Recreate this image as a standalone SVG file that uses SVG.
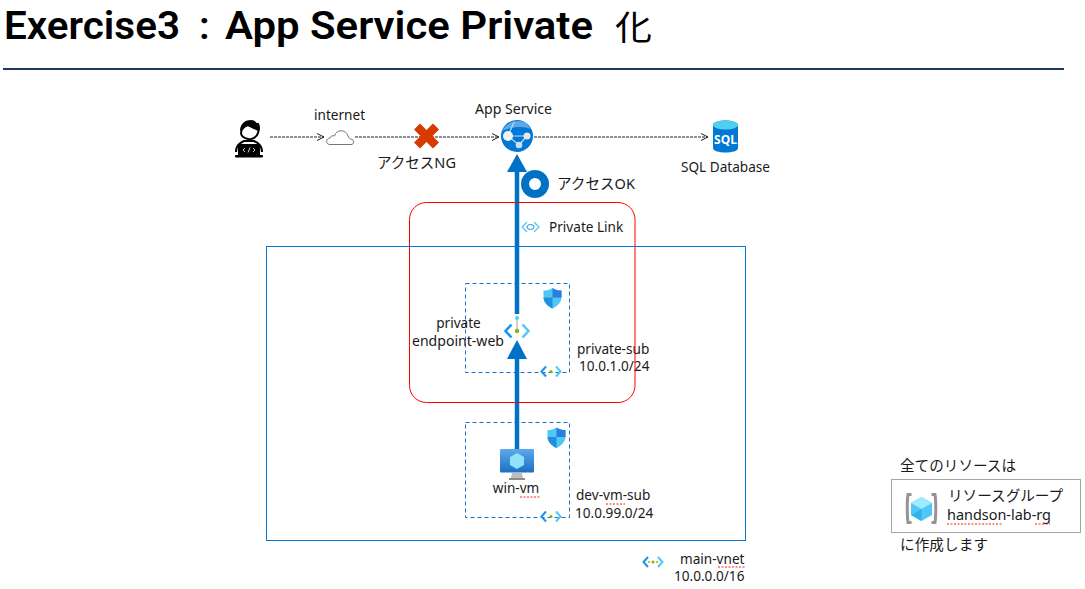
<svg xmlns="http://www.w3.org/2000/svg" width="1085" height="589" viewBox="0 0 1085 589">
<style>
text{font-family:"Noto Sans","Noto Sans CJK JP",sans-serif;font-size:13.6px;fill:#1a1a1a}
.m{text-anchor:middle}
.t{font-family:Roboto,"Noto Sans CJK JP",sans-serif;font-size:39px;font-weight:600;fill:#000}
.c{font-size:14.6px}
.dash{fill:none;stroke:#222;stroke-width:1;stroke-dasharray:3 1}
.sub{fill:none;stroke:#1a6fc0;stroke-width:1;stroke-dasharray:4 3}
.blue{fill:none;stroke:#0072c6;stroke-width:4.500}
.sq{fill:none;stroke:#f00;stroke-width:.9;stroke-dasharray:2 1.500}
.v{fill:none;stroke:#50c7f5;stroke-width:2}
.v2{fill:none;stroke:#1b93eb;stroke-width:2}
</style>
<defs>
<marker id="open" markerWidth="10" markerHeight="10" refX="8" refY="4" orient="auto" markerUnits="userSpaceOnUse"><path d="M1 .5L8 4L1 7.500" fill="none" stroke="#222" stroke-width="1"/></marker>
<linearGradient id="sh" x1="0" y1="0" x2="0" y2="1"><stop offset="0" stop-color="#5ea9ee"/><stop offset="1" stop-color="#1b6fc4"/></linearGradient>
<g id="shield"><path d="M0-10.500C3-8.500 5.500-8 9-8V-1C9 4 4 8 0 10C-4 8-9 4-9-1V-8C-5.500-8-3-8.500 0-10.500Z" fill="#50c7f5"/><path d="M0-10.500C3-8.500 5.500-8 9-8V-1H0Z" fill="#2a7de0"/><path d="M0-1H-9C-9 4-4 8 0 10Z" fill="#1f8fe0"/></g>
<g id="vnet"><path class="v2" d="M-5-5L-9.500 0L-5 5"/><path class="v" d="M5-5L9.500 0L5 5"/><circle r="1.500" fill="#7fba00"/></g>
</defs>

<text class="t" x="4" y="39" textLength="176" lengthAdjust="spacingAndGlyphs">Exercise3</text>
<text class="t" x="199" y="39">:</text>
<text class="t" x="225" y="39" textLength="368" lengthAdjust="spacingAndGlyphs">App Service Private</text>
<text class="t" x="615" y="40" style="font-size:34px;font-weight:400" textLength="37" lengthAdjust="spacingAndGlyphs">化</text>
<line x1="3" y1="69" x2="1064" y2="69" stroke="#1f3864" stroke-width="2"/>

<g id="main-vnet">
<rect x="266.500" y="246.500" width="479" height="294" fill="none" stroke="#0078d4"/>
<use href="#vnet" x="653" y="562"/><circle cx="649" cy="562" r="1" fill="#7fba00"/><circle cx="657" cy="562" r="1" fill="#7fba00"/>
<text x="680" y="564">main-vnet</text>
<path class="sq" d="M718 567H745"/>
<text x="674" y="581">10.0.0.0/16</text>
</g>

<g id="private-sub">
<rect x="465.500" y="283.500" width="104" height="89" class="sub"/>
<use href="#shield" x="552.500" y="298.500"/>
<use href="#vnet" x="551" y="371.500"/>
<text x="577" y="354">private-sub</text>
<text x="579" y="371">10.0.1.0/24</text>
</g>

<g id="dev-vm-sub">
<rect x="465.500" y="422.500" width="104" height="95" class="sub"/>
<use href="#shield" x="556.500" y="438"/>
<use href="#vnet" x="551" y="516.500"/>
<text x="576" y="500">dev-vm-sub</text>
<path class="sq" d="M606 504H625"/>
<text x="575" y="518">10.0.99.0/24</text>
</g>

<g id="connectors">
<line class="dash" x1="270" y1="137" x2="324" y2="137" marker-end="url(#open)"/>
<line class="dash" x1="355" y1="137" x2="499" y2="137" marker-end="url(#open)"/>
<line class="dash" x1="534" y1="137" x2="708" y2="137" marker-end="url(#open)"/>
<line class="blue" x1="517" y1="172" x2="517" y2="314"/>
<path d="M517 154L527 172H507Z" fill="#0072c6"/>
<line class="blue" x1="517" y1="357" x2="517" y2="452"/>
<path d="M517 340L527 359H507Z" fill="#0072c6"/>
</g>

<g id="private-link-box">
<rect x="409.500" y="202.500" width="225.500" height="200" rx="17" fill="none" stroke="#f00"/>
<path class="v" d="M527 222L522 227L527 232M534 222L539 227L534 232" style="stroke-width:1.200"/>
<ellipse cx="530.500" cy="227" rx="3.500" ry="2.500" fill="none" stroke="#1b93eb" stroke-width="1"/>
<text x="549" y="232">Private Link</text>
</g>

<g id="user">
<path d="M241 133C241 125 254 123 258 124C260 127 259 130 258 133C257 137 252 140 248 139C244 138 241 136 241 133Z" fill="#fff" stroke="#000" stroke-width="2"/>
<path d="M240 131C240 123 246 120 251 120C256 120 259 125 258 131C255 129 250 128 246 125C245 128 242 130 240 131Z" fill="#000"/>
<path d="M236 152C236 145 240 143 244 141H254C258 143 262 145 262 152" fill="#fff" stroke="#000" stroke-width="2"/>
<rect x="238" y="144" width="22" height="12" rx="1" fill="#000"/>
<rect x="235" y="155" width="28" height="2.500" rx="1" fill="#000"/>
<path d="M245 148L243 150L245 152M253 148L255 150L253 152M250 147.500L248 152.500" stroke="#fff" stroke-width=".8" fill="none"/>
</g>

<g id="internet">
<text x="314" y="120">internet</text>
<path d="M330 144.500C325.500 144.500 325.500 138.500 330 138C331 135.500 333 135.500 334.500 136C336 129 346 129 348 136C349 138.500 350 139 351 139C354.500 139.500 354.500 144.500 351 144.500Z" fill="#fff" stroke="#666" stroke-width=".9"/>
</g>

<g id="access-ng">
<path d="M420 123.500L426.500 130L433 123.500L439 129.500L432.500 136L439 142.500L433 148.500L426.500 142L420 148.500L414 142.500L420.500 136L414 129.500Z" fill="#d83b01"/>
<text class="c" x="377" y="168" textLength="79" lengthAdjust="spacingAndGlyphs">アクセスNG</text>
</g>

<g id="app-service">
<text class="m" x="513.500" y="114" textLength="77" lengthAdjust="spacingAndGlyphs">App Service</text>
<circle cx="517" cy="136" r="16" fill="#0078d4"/>
<path d="M502 131C506 123 516 118 526 123L531 129C524 126 513 126 502 131Z" fill="#5ea8e8"/>
<path d="M508 136L527 136L519 145M508 136L519 145M508 136L514 122" stroke="#b6dcf5" stroke-width="1.200" fill="none"/>
<circle cx="508" cy="136" r="5" fill="#eef3f8"/><circle cx="527" cy="136" r="3.500" fill="#e0e8f0"/><circle cx="519" cy="145" r="3.300" fill="#d4dfe9"/>
</g>

<g id="sql-database">
<path d="M713 125C713 119 738 119 738 125V148C738 154 713 154 713 148Z" fill="#0078d4"/>
<ellipse cx="725.500" cy="125" rx="12.500" ry="4.500" fill="#50d0f0"/>
<text class="m" x="725.500" y="144" style="font-size:12px;font-weight:700;fill:#fff">SQL</text>
<text x="681" y="172" textLength="89" lengthAdjust="spacingAndGlyphs">SQL Database</text>
</g>

<g id="access-ok">
<circle cx="535" cy="184" r="10" fill="none" stroke="#0072c6" stroke-width="8"/>
<text class="c" x="557" y="189" textLength="78" lengthAdjust="spacingAndGlyphs">アクセスOK</text>
</g>

<g id="private-endpoint-web">
<line x1="517" y1="318" x2="517" y2="331" stroke="#b0b0b0" stroke-width="1.200"/>
<circle cx="517" cy="318" r="2" fill="#50c7f5"/>
<path class="v2" d="M511.500 324.500L505.500 331L511.500 337.500" style="stroke-width:2.500"/>
<path class="v" d="M522.500 324.500L528.500 331L522.500 337.500" style="stroke-width:2.500"/>
<circle cx="517" cy="331" r="2.200" fill="#7fba00"/>
<text class="m" x="458.500" y="328">private</text>
<text class="m" x="458" y="346" textLength="92" lengthAdjust="spacingAndGlyphs">endpoint-web</text>
</g>

<g id="win-vm">
<rect x="500" y="449" width="34" height="23.500" rx="1" fill="url(#sh)"/>
<path d="M517 453L524 457V465L517 469L510 465V457Z" fill="#8fe2f7"/>
<path d="M512 473H522L523 478H511Z" fill="#bdbdbd"/><rect x="509" y="478" width="16" height="2" fill="#8a8a8a"/>
<text class="m" x="516" y="493">win-vm</text>
<path class="sq" d="M520 497H540"/>
</g>

<g id="resource-note">
<text class="c" x="900" y="471">全てのリソースは</text>
<rect x="891.500" y="479.500" width="189" height="53" fill="#fff" stroke="#a6a6a6"/>
<path d="M911.500 494.500H908C907 500 907 516 908 522.500H911.500" fill="none" stroke="#949494" stroke-width="3"/>
<path d="M931.500 494.500H935C936 500 936 516 935 522.500H931.500" fill="none" stroke="#949494" stroke-width="3"/>
<path d="M921.500 497L932 503V515L921.500 521L911 515V503Z" fill="#50c7f5"/>
<path d="M921.500 497L932 503L921.500 509L911 503Z" fill="#9cebff"/>
<path d="M921.500 509L911 515L921.500 521Z" fill="#32b0e8"/>
<text class="c" x="948" y="501">リソースグループ</text>
<text x="947" y="520" textLength="104" lengthAdjust="spacingAndGlyphs">handson-lab-rg</text>
<path class="sq" d="M947 524H1003M1035 524H1050"/>
<text class="c" x="900" y="550" textLength="88">に作成します</text>
</g>
</svg>
